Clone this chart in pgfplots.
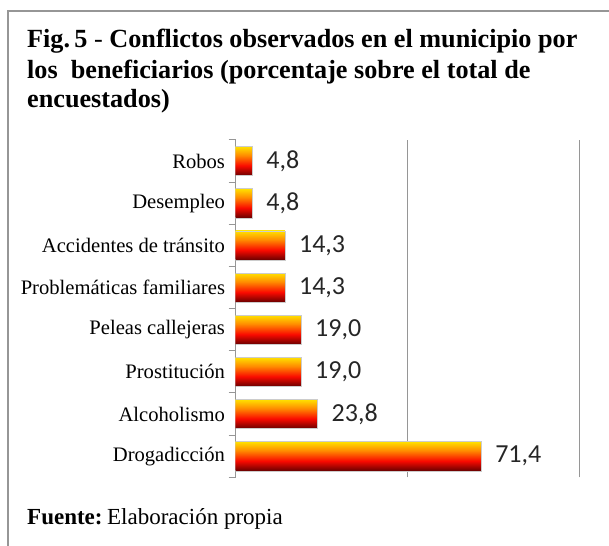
\documentclass[border=0pt]{standalone}
\usepackage{pgfplots}
\pgfplotsset{compat=1.18}
\usepackage{fontspec}
\setmainfont{Liberation Serif}
\newfontfamily\calibri{Carlito}
\definecolor{byel}{RGB}{255,225,0}
\definecolor{bora}{RGB}{255,140,0}
\definecolor{bred}{RGB}{250,10,0}
\definecolor{bdred}{RGB}{105,0,0}
\definecolor{framegray}{RGB}{150,150,150}
\pgfdeclareverticalshading{barshade}{100bp}{color(0bp)=(bdred); color(25bp)=(bdred); color(42bp)=(bred); color(60bp)=(bora); color(75bp)=(byel); color(100bp)=(byel)}
\pgfplotsset{gbar/.style={xbar, bar width=0.69, bar shift=0pt, draw=gray!40, line width=0.5bp, shading=barshade,
  nodes near coords, nodes near coords align={horizontal},
  every node near coord/.append style={font=\calibri\fontsize{26bp}{30bp}\selectfont, text=black!85, anchor=west, inner sep=0pt, xshift=14bp}}}
\begin{document}
\begin{tikzpicture}
\useasboundingbox (0,0) rectangle (609bp,546bp);
\draw[framegray, line width=1.5bp] (8bp,0) -- (8bp,535bp) -- (609bp,535bp);
\node[anchor=base west, inner sep=0pt, font=\fontsize{26.2bp}{30bp}\selectfont\bfseries] at (27bp,498bp) {Fig.\,5 \textmd{-} Conflictos observados en el municipio por};
\node[anchor=base west, inner sep=0pt, font=\fontsize{26.2bp}{30bp}\selectfont\bfseries] at (27bp,467bp) {los~ beneficiarios (porcentaje sobre el total de};
\node[anchor=base west, inner sep=0pt, font=\fontsize{26.2bp}{30bp}\selectfont\bfseries] at (27bp,438bp) {encuestados)};
\node[anchor=base west, inner sep=0pt, font=\fontsize{23bp}{28bp}\selectfont] at (27bp,22bp) {\textbf{Fuente:}\hspace{0.2em}Elaboración propia};
\begin{axis}[
  at={(235.7bp,68.7bp)}, anchor=south west,
  scale only axis, width=343.6bp, height=337.3bp,
  xmin=0, xmax=100, ymin=-0.5, ymax=7.5,
  axis x line*=bottom, axis y line*=left,
  x axis line style={draw=none,-},
  y axis line style={framegray, line width=1bp, -},
  xtick={50,100}, xticklabels={},
  xmajorgrids, major x grid style={framegray, line width=1bp},
  ytick={0,1,2,3,4,5,6,7},
  yticklabels={Drogadicción,Alcoholismo,Prostitución,Peleas callejeras,Problemáticas familiares,Accidentes de tránsito,Desempleo,Robos},
  minor ytick={-0.5,0.5,1.5,2.5,3.5,4.5,5.5,6.5,7.5},
  major tick length=0pt, minor tick length=7bp, tick align=outside,
  minor tick style={framegray, line width=1bp},
  yticklabel style={font=\fontsize{20.6bp}{23bp}\selectfont, inner sep=0pt, xshift=-10.5bp},
  /pgf/number format/.cd, fixed, fixed zerofill, precision=1, use comma, assume math mode=true,
]
\addplot[gbar] coordinates {(71.4,0)};
\addplot[gbar] coordinates {(23.8,1)};
\addplot[gbar] coordinates {(19.0,2)};
\addplot[gbar] coordinates {(19.0,3)};
\addplot[gbar] coordinates {(14.3,4)};
\addplot[gbar] coordinates {(14.3,5)};
\addplot[gbar] coordinates {(4.8,6)};
\addplot[gbar] coordinates {(4.8,7)};
\end{axis}
\end{tikzpicture}
\end{document}
